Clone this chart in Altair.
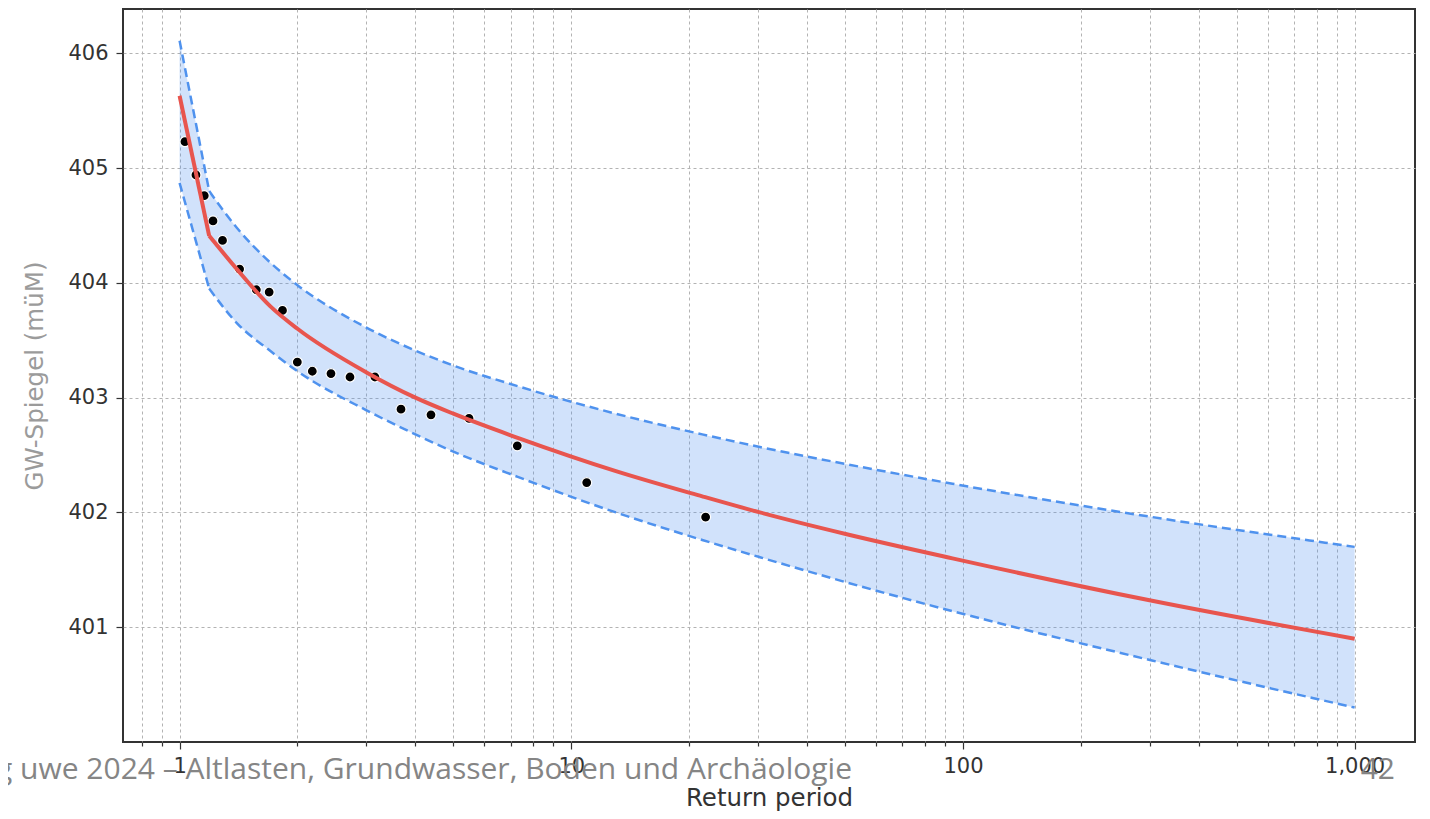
import altair as alt
import pandas as pd

# Observed points (return period, level)
obs_T = [1.032, 1.101, 1.156, 1.217, 1.287, 1.423, 1.570, 1.693, 1.831, 1.998,
         2.182, 2.435, 2.723, 3.153, 3.675, 4.384, 5.482, 7.281, 10.95, 22.03]
obs_y = [405.23, 404.94, 404.76, 404.54, 404.37, 404.12, 403.94, 403.92, 403.76, 403.31,
         403.23, 403.21, 403.18, 403.18, 402.90, 402.85, 402.82, 402.58, 402.26, 401.96]

# Fitted curve and confidence band
curve_T = [1.0, 1.19, 1.4, 1.7, 2.0, 3.0, 4.0, 5.0, 7.3, 13, 21.6, 30.3, 50.5, 94, 304, 1000]
fit_y = [405.63, 404.41, 404.12, 403.80, 403.60, 403.22, 403.00, 402.86, 402.65, 402.36,
         402.14, 402.00, 401.81, 401.60, 401.23, 400.90]
upper_y = [406.11, 404.80, 404.48, 404.18, 403.98, 403.61, 403.41, 403.28, 403.10, 402.86,
           402.68, 402.57, 402.42, 402.25, 401.96, 401.70]
lower_y = [404.87, 403.95, 403.65, 403.41, 403.23, 402.89, 402.68, 402.53, 402.31, 402.00,
           401.76, 401.61, 401.39, 401.14, 400.71, 400.30]
kink_T = 1.19

major_ticks = [1, 10, 100, 1000]
minor_ticks = [0.8, 0.9, 2, 3, 4, 5, 6, 7, 8, 9, 20, 30, 40, 50, 60, 70, 80, 90,
               200, 300, 400, 500, 600, 700, 800, 900]
y_ticks = [401, 402, 403, 404, 405, 406]

footer_text = "g uwe 2024 \u2013 Altlasten, Grundwasser, Boden und Arch\u00e4ologie"
page_number = "42"

curve = pd.DataFrame({"T": curve_T, "fit": fit_y, "upper": upper_y, "lower": lower_y})
obs = pd.DataFrame({"T": obs_T, "y": obs_y})

xscale = alt.Scale(type="log", domain=[0.717, 1426], nice=False)
yscale = alt.Scale(domain=[400.0, 406.386], nice=False, zero=False)

minor_axis = alt.Axis(values=minor_ticks, labels=False, ticks=True, tickSize=4,
                      grid=True, orient="bottom", title=None, domain=False)
major_axis = alt.Axis(values=major_ticks, labelExpr="format(datum.value, ',')",
                      tickSize=7, grid=True, orient="bottom", title="Return period",
                      labelPadding=6, titlePadding=10, titleColor="#333333", domain=False)
y_axis = alt.Axis(values=y_ticks, format="d", tickSize=7, grid=True, labelPadding=8,
                  title="GW-Spiegel (müM)", titleColor="#9b9b9b", titlePadding=20, domain=False)

head = alt.Chart(curve).transform_filter(alt.datum.T <= kink_T)
tail = alt.Chart(curve).transform_filter(alt.datum.T >= kink_T)

layers = []
for part, interp in ((head, "linear"), (tail, "monotone")):
    first = part is head
    layers.append(part.mark_area(color="#468cf0", opacity=0.25, interpolate=interp).encode(
        x=alt.X("T:Q", scale=xscale, axis=minor_axis if first else None),
        y=alt.Y("upper:Q", scale=yscale, axis=y_axis),
        y2="lower:Q",
    ))
    for col in ("upper", "lower"):
        layers.append(part.mark_line(color="#4f92ee", strokeDash=[9, 5], strokeWidth=2.5,
                                     interpolate=interp).encode(
            x=alt.X("T:Q", scale=xscale, axis=None),
            y=alt.Y(f"{col}:Q", scale=yscale, axis=y_axis),
        ))

points = alt.Chart(obs).mark_point(filled=True, fill="black", stroke="white",
                                   strokeWidth=1.2, size=100, opacity=1).encode(
    x=alt.X("T:Q", scale=xscale, axis=None),
    y=alt.Y("y:Q", scale=yscale, axis=y_axis),
)
layers.append(points)

layers.append(head.mark_line(color="#e8554e", strokeWidth=4).encode(
    x=alt.X("T:Q", scale=xscale, axis=major_axis),
    y=alt.Y("fit:Q", scale=yscale, axis=y_axis),
))
layers.append(tail.mark_line(color="#e8554e", strokeWidth=4, interpolate="monotone").encode(
    x=alt.X("T:Q", scale=xscale, axis=None),
    y=alt.Y("fit:Q", scale=yscale, axis=y_axis),
))

footer = alt.Chart(pd.DataFrame({"t": [footer_text]})).mark_text(
    align="right", baseline="alphabetic", font="Open Sans", fontSize=30, color="#858585"
).encode(text="t:N", x=alt.value(729), y=alt.value(770))

pagenum = alt.Chart(pd.DataFrame({"t": [page_number]})).mark_text(
    align="right", baseline="alphabetic", font="Open Sans", fontSize=30, color="#858585"
).encode(text="t:N", x=alt.value(1272), y=alt.value(770))

chart = alt.layer(*layers, footer, pagenum).resolve_axis(
    x="independent"
).properties(
    width=1292, height=733,
    autosize=alt.AutoSizeParams(type="none"),
    padding={"left": 115, "top": 1, "right": 7, "bottom": 69},
).configure_view(
    stroke="#333333", strokeWidth=2
).configure_axis(
    labelFont="DejaVu Sans", labelFontSize=21, labelColor="#333333",
    tickColor="#333333", tickWidth=1.2,
    gridColor="#b3b3b3", gridDash=[3, 3], gridWidth=1,
    titleFont="DejaVu Sans", titleFontSize=24.5, titleFontWeight="normal",
)

chart.save("out.html", embed_options={"renderer": "svg", "actions": False})
